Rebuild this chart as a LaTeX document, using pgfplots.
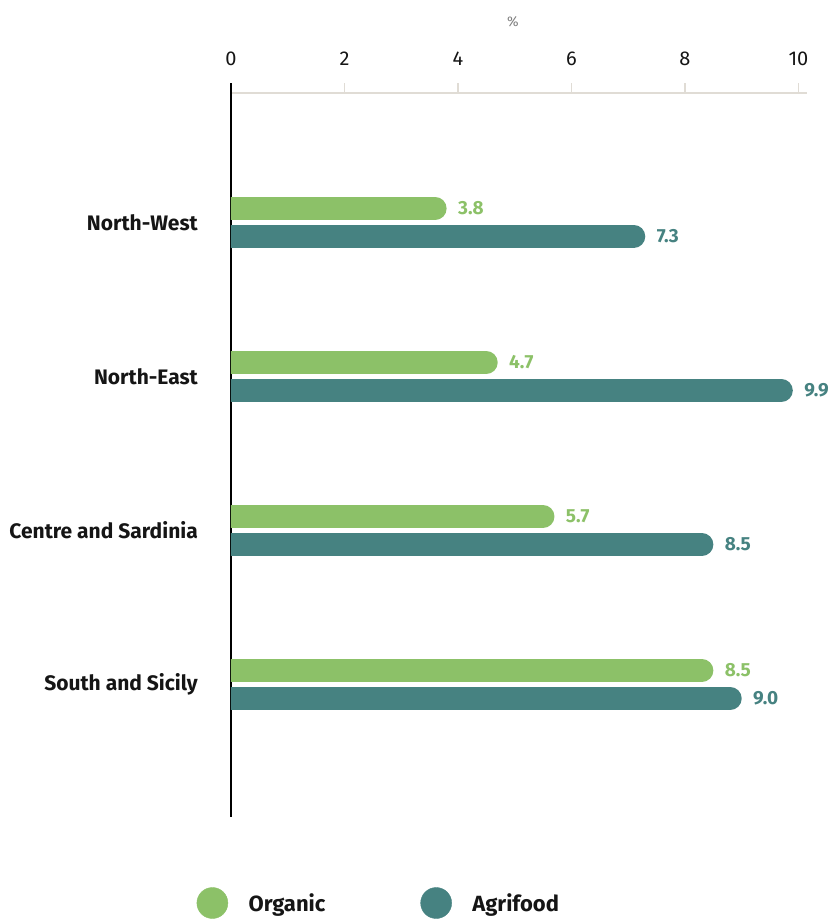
\documentclass[border=0pt]{standalone}
\usepackage{pgfplots}
\pgfplotsset{compat=1.18}
\usepackage{fontspec}
\setmainfont{Fira Sans}
\definecolor{org}{HTML}{8CC168}
\definecolor{agr}{HTML}{468281}
\definecolor{gridc}{HTML}{E0DCD5}
\definecolor{txt}{HTML}{151515}
\pgfplotsset{
  barline/.style={line width=23pt, line cap=round, shorten >=11.5pt,
    nodes near coords, point meta=explicit symbolic,
    nodes near coords style={anchor=west, inner sep=0pt, xshift=0pt,
      font=\bfseries\fontsize{19}{22}\selectfont}},
}
\begin{document}
\begin{tikzpicture}
\begin{axis}[
  name=ax,
  scale only axis, width=576pt, height=724pt,
  xmin=0, xmax=10.15, ymin=-0.84, ymax=3.86, y dir=reverse,
  axis x line*=top, axis y line*=left,
  x axis line style={gridc, line width=1.3pt, -},
  y axis line style={black, line width=1.2pt, -},
  xtick={0,2,4,6,8,10},
  xtick style={gridc, line width=1.3pt},
  tick align=outside, major tick length=10pt,
  /pgf/number format/assume math mode=true,
  xticklabel style={font=\fontsize{20}{24}\selectfont, text=txt, inner sep=0pt, anchor=south, yshift=17pt},
  ytick={0,1,2,3},
  yticklabels={North-West, North-East, Centre and Sardinia, South and Sicily},
  ytick style={draw=none},
  yticklabel style={font=\bfseries\fontsize{21}{25}\selectfont, text=txt, inner sep=0pt, anchor=east, xshift=-23pt},
  legend columns=2,
  legend style={draw=none, fill=none, inner sep=0pt, at={(0,0)}, anchor=west,
    xshift=-34.5pt, yshift=-86pt, text=txt,
    font=\bfseries\fontsize{22}{26}\selectfont, nodes={inner sep=0pt},
    /tikz/every odd column/.append style={column sep=20.5pt},
    /tikz/every even column/.append style={column sep=95pt}},
]
\addlegendimage{legend image code/.code={\fill[org] (0pt,0pt) circle (15.5pt);}}
\addlegendentry{Organic}
\addlegendimage{legend image code/.code={\fill[agr] (0pt,0pt) circle (15.5pt);}}
\addlegendentry{Agrifood}

% Organic
\addplot[org, barline, yshift=14pt, nodes near coords style={text=org}, forget plot] coordinates {(0,0) [] (3.8,0) [3.8]};
\addplot[org, barline, yshift=14pt, nodes near coords style={text=org}, forget plot] coordinates {(0,1) [] (4.7,1) [4.7]};
\addplot[org, barline, yshift=14pt, nodes near coords style={text=org}, forget plot] coordinates {(0,2) [] (5.7,2) [5.7]};
\addplot[org, barline, yshift=14pt, nodes near coords style={text=org}, forget plot] coordinates {(0,3) [] (8.5,3) [8.5]};
% Agrifood
\addplot[agr, barline, yshift=-14pt, nodes near coords style={text=agr}, forget plot] coordinates {(0,0) [] (7.3,0) [7.3]};
\addplot[agr, barline, yshift=-14pt, nodes near coords style={text=agr}, forget plot] coordinates {(0,1) [] (9.9,1) [9.9]};
\addplot[agr, barline, yshift=-14pt, nodes near coords style={text=agr}, forget plot] coordinates {(0,2) [] (8.5,2) [8.5]};
\addplot[agr, barline, yshift=-14pt, nodes near coords style={text=agr}, forget plot] coordinates {(0,3) [] (9.0,3) [9.0]};

\coordinate (tl) at (axis cs:0,-0.84);
\coordinate (bl) at (axis cs:0,3.86);
\end{axis}
\draw[black, line width=1.2pt] (tl) -- ++(0,10pt);
\node[text=gray, font=\fontsize{14}{16}\selectfont, inner sep=0pt] at ([xshift=282pt, yshift=71pt]tl) {\%};
\pgfresetboundingbox
\path (bl) ++(-231pt,-102pt) rectangle ++(834pt,919pt);
\end{tikzpicture}
\end{document}
